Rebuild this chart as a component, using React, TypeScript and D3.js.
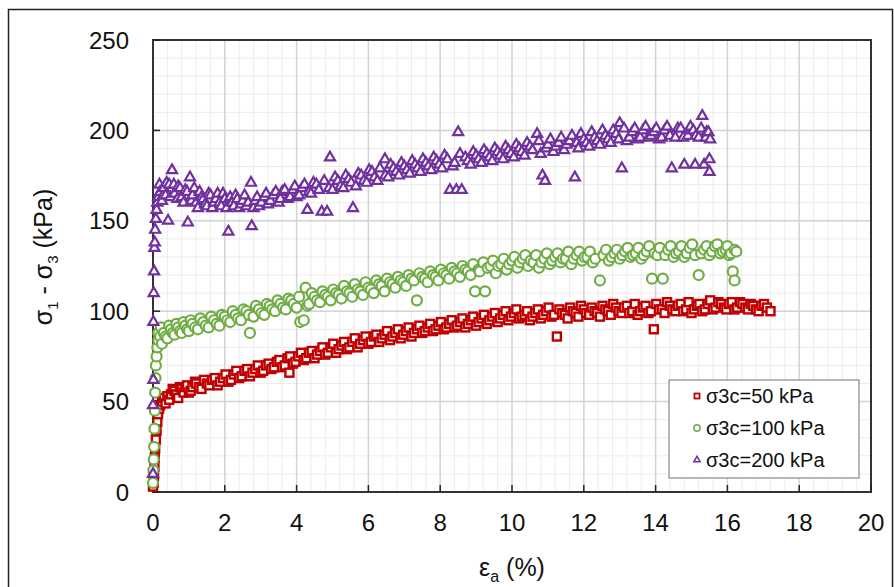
import React, { useEffect, useRef } from "react";
import * as d3 from "d3";

// axial strain (%) vs deviator stress (kPa)
const red50: [number, number][] = [
  [0, 3], [0.02, 5], [0.03, 9], [0.04, 14], [0.05, 19], [0.06, 24], [0.08, 29], [0.1, 34], [0.12, 39],
  [0.14, 43], [0.17, 46], [0.2, 48], [0.25, 50], [0.3, 52], [0.35, 49], [0.4, 53], [0.5, 54], [0.6, 56],
  [0.7, 52], [0.8, 57], [0.9, 58], [1.0, 55], [1.1, 58], [1.2, 60], [1.35, 57], [1.5, 60], [1.65, 62],
  [1.8, 59], [1.95, 63], [2.1, 61], [2.25, 65], [2.4, 63], [2.55, 67], [2.7, 64], [2.85, 68], [3.0, 66],
  [3.15, 70], [3.3, 68], [3.45, 72], [3.6, 69], [3.75, 74], [3.8, 66], [3.9, 71], [4.05, 75], [4.2, 73],
  [4.35, 77], [4.5, 74], [4.65, 78], [4.8, 76], [4.95, 80], [5.1, 77], [5.25, 81], [5.4, 79], [5.55, 83],
  [5.7, 80], [5.85, 84], [6.0, 82], [6.15, 86], [6.3, 83], [6.45, 87], [6.6, 84], [6.75, 88], [6.9, 85],
  [7.05, 89], [7.2, 86], [7.35, 90], [7.5, 88], [7.65, 91], [7.8, 89], [7.95, 92], [8.1, 90], [8.25, 93],
  [8.4, 91], [8.55, 94], [8.7, 91], [8.85, 95], [9.0, 92], [9.15, 96], [9.3, 93], [9.45, 97], [9.6, 94],
  [9.75, 98], [9.9, 95], [10.05, 99], [10.2, 96], [10.35, 98], [10.5, 95], [10.65, 99], [10.8, 96],
  [10.95, 100], [11.1, 97], [11.25, 86], [11.4, 99], [11.55, 96], [11.7, 100], [11.85, 97], [12.0, 101],
  [12.15, 98], [12.3, 100], [12.45, 97], [12.6, 101], [12.75, 98], [12.9, 102], [13.05, 99], [13.2, 103],
  [13.35, 100], [13.5, 98], [13.65, 102], [13.8, 99], [13.95, 90], [14.1, 101], [14.25, 99], [14.4, 103],
  [14.55, 100], [14.7, 104], [14.85, 101], [15.0, 99], [15.15, 103], [15.3, 100], [15.45, 104], [15.6, 101],
  [15.75, 105], [15.9, 102], [16.05, 104], [16.2, 101], [16.35, 105], [16.5, 102], [16.65, 104], [16.8, 101],
  [16.95, 103], [17.1, 102], [17.2, 100],
];
const red50b: [number, number][] = [
  [0.45, 51], [0.55, 57], [0.65, 54], [0.75, 58], [0.85, 55], [0.95, 59], [1.05, 56], [1.17, 61], [1.28, 58],
  [1.42, 62], [1.57, 59], [1.72, 63], [1.87, 61], [2.02, 65], [2.17, 62], [2.32, 67], [2.47, 64], [2.62, 68],
  [2.77, 66], [2.92, 70], [3.07, 67], [3.22, 71], [3.37, 69], [3.52, 73], [3.67, 70], [3.82, 75], [3.97, 72],
  [4.12, 77], [4.27, 74], [4.42, 78], [4.57, 76], [4.72, 80], [4.87, 77], [5.02, 82], [5.17, 79], [5.32, 83],
  [5.47, 80], [5.62, 85], [5.77, 82], [5.92, 86], [6.07, 83], [6.22, 87], [6.37, 85], [6.52, 89], [6.67, 86],
  [6.82, 90], [6.97, 87], [7.12, 91], [7.27, 88], [7.42, 92], [7.57, 89], [7.72, 93], [7.87, 90], [8.02, 94],
  [8.17, 91], [8.32, 95], [8.47, 92], [8.62, 96], [8.77, 93], [8.92, 97], [9.07, 94], [9.22, 98], [9.37, 95],
  [9.52, 99], [9.67, 96], [9.82, 100], [9.97, 97], [10.12, 101], [10.27, 97], [10.42, 100], [10.57, 97],
  [10.72, 101], [10.87, 98], [11.02, 102], [11.17, 98], [11.32, 101], [11.47, 98], [11.62, 102], [11.77, 99],
  [11.92, 103], [12.07, 99], [12.22, 102], [12.37, 99], [12.52, 103], [12.67, 100], [12.82, 104], [12.97, 100],
  [13.12, 102], [13.27, 99], [13.42, 104], [13.57, 100], [13.72, 103], [13.87, 100], [14.02, 104], [14.17, 101],
  [14.32, 105], [14.47, 101], [14.62, 103], [14.77, 100], [14.92, 105], [15.07, 101], [15.22, 104], [15.37, 101],
  [15.52, 106], [15.67, 102], [15.82, 104], [15.97, 101], [16.12, 105], [16.27, 102], [16.42, 104], [16.57, 101],
  [16.72, 103], [16.87, 100], [17.02, 104],
];

const green100: [number, number][] = [
  [0, 5], [0.01, 12], [0.02, 18], [0.03, 25], [0.04, 35], [0.05, 45], [0.06, 55], [0.07, 63], [0.08, 70],
  [0.1, 75], [0.12, 80], [0.15, 84], [0.2, 86], [0.25, 82], [0.3, 88], [0.4, 85], [0.5, 90], [0.6, 87],
  [0.7, 91], [0.8, 88], [0.9, 92], [1.0, 89], [1.1, 93], [1.25, 90], [1.4, 94], [1.55, 91], [1.7, 95],
  [1.85, 92], [2.0, 97], [2.15, 94], [2.3, 98], [2.45, 95], [2.6, 100], [2.7, 88], [2.8, 97], [2.95, 101],
  [3.1, 98], [3.25, 103], [3.4, 100], [3.55, 104], [3.7, 101], [3.85, 106], [4.0, 102], [4.1, 94], [4.2, 95],
  [4.25, 113], [4.35, 104], [4.5, 108], [4.65, 105], [4.8, 109], [4.95, 106], [5.1, 110], [5.25, 107],
  [5.4, 111], [5.55, 108], [5.7, 112], [5.85, 109], [6.0, 113], [6.15, 110], [6.3, 115], [6.45, 111],
  [6.6, 116], [6.75, 113], [6.9, 117], [7.05, 114], [7.2, 118], [7.35, 106], [7.5, 119], [7.65, 116],
  [7.8, 120], [7.95, 117], [8.1, 121], [8.25, 118], [8.4, 122], [8.55, 119], [8.7, 123], [8.85, 120],
  [8.97, 111], [9.1, 122], [9.25, 111], [9.4, 125], [9.55, 121], [9.7, 126], [9.85, 123], [10.0, 128],
  [10.15, 124], [10.3, 129], [10.45, 125], [10.6, 127], [10.75, 124], [10.9, 129], [11.05, 126], [11.2, 130],
  [11.35, 127], [11.5, 129], [11.65, 126], [11.8, 131], [11.95, 128], [12.1, 130], [12.25, 127], [12.45, 117],
  [12.55, 131], [12.7, 128], [12.85, 132], [13.0, 129], [13.15, 133], [13.3, 130], [13.45, 132], [13.6, 129],
  [13.75, 133], [13.9, 118], [14.05, 131], [14.2, 118], [14.35, 134], [14.5, 130], [14.65, 133], [14.8, 130],
  [14.95, 135], [15.1, 131], [15.2, 120], [15.35, 134], [15.5, 131], [15.65, 136], [15.8, 132], [15.95, 134],
  [16.05, 131], [16.15, 122], [16.2, 117], [16.25, 133],
];
const green100b: [number, number][] = [
  [0.15, 88], [0.22, 91], [0.35, 86], [0.45, 92], [0.55, 88], [0.65, 93], [0.75, 89], [0.85, 94], [0.95, 90],
  [1.05, 95], [1.17, 91], [1.32, 96], [1.47, 92], [1.62, 97], [1.77, 93], [1.92, 98], [2.07, 95], [2.22, 100],
  [2.37, 96], [2.52, 101], [2.67, 98], [2.87, 103], [3.02, 99], [3.17, 104], [3.32, 101], [3.47, 106],
  [3.62, 102], [3.77, 107], [3.92, 104], [4.07, 108], [4.3, 103], [4.42, 110], [4.57, 106], [4.72, 111],
  [4.87, 108], [5.02, 112], [5.17, 109], [5.32, 114], [5.47, 110], [5.62, 115], [5.77, 111], [5.92, 116],
  [6.07, 112], [6.22, 117], [6.37, 114], [6.52, 118], [6.67, 115], [6.82, 119], [6.97, 116], [7.12, 120],
  [7.27, 117], [7.42, 121], [7.57, 118], [7.72, 122], [7.87, 119], [8.02, 123], [8.17, 120], [8.32, 124],
  [8.47, 121], [8.62, 125], [8.77, 122], [8.92, 126], [9.07, 123], [9.2, 127], [9.32, 124], [9.47, 128],
  [9.62, 125], [9.77, 129], [9.92, 126], [10.07, 130], [10.22, 127], [10.37, 131], [10.52, 128], [10.67, 131],
  [10.82, 127], [10.97, 132], [11.12, 128], [11.27, 132], [11.42, 129], [11.57, 133], [11.72, 129], [11.87, 133],
  [12.02, 130], [12.17, 133], [12.32, 129], [12.62, 134], [12.77, 130], [12.92, 134], [13.07, 131], [13.22, 135],
  [13.37, 131], [13.52, 135], [13.67, 131], [13.82, 136], [13.97, 132], [14.12, 135], [14.27, 131], [14.42, 136],
  [14.57, 132], [14.72, 136], [14.87, 132], [15.02, 137], [15.27, 132], [15.42, 136], [15.57, 133], [15.72, 137],
  [15.87, 133], [16.0, 136], [16.1, 132], [16.2, 134],
];

const purple200: [number, number][] = [
  [0, 10], [0, 48], [0.01, 62], [0.01, 94], [0.02, 110], [0.03, 122], [0.04, 135], [0.05, 138], [0.06, 145],
  [0.08, 151], [0.1, 156], [0.12, 160], [0.15, 163], [0.2, 166], [0.25, 161], [0.3, 168], [0.35, 164],
  [0.42, 150], [0.45, 170], [0.53, 178], [0.6, 165], [0.7, 169], [0.8, 163], [0.9, 167], [0.97, 149],
  [1.03, 174], [1.1, 164], [1.2, 160], [1.3, 166], [1.4, 162], [1.5, 158], [1.6, 164], [1.7, 160], [1.8, 165],
  [1.9, 158], [2.0, 162], [2.1, 144], [2.2, 160], [2.3, 164], [2.4, 157], [2.5, 161], [2.6, 158], [2.73, 171],
  [2.75, 147], [2.85, 161], [2.95, 158], [3.1, 163], [3.2, 159], [3.35, 164], [3.5, 160], [3.6, 166],
  [3.75, 162], [3.9, 167], [4.0, 163], [4.15, 168], [4.3, 156], [4.4, 165], [4.55, 170], [4.7, 155],
  [4.85, 155], [4.93, 185], [5.0, 167], [5.15, 172], [5.3, 168], [5.45, 173], [5.57, 157], [5.65, 169],
  [5.8, 175], [5.95, 171], [6.1, 177], [6.25, 172], [6.46, 184], [6.55, 174], [6.7, 179], [6.85, 175],
  [7.0, 180], [7.15, 176], [7.3, 181], [7.45, 177], [7.6, 182], [7.75, 178], [7.9, 183], [8.05, 179],
  [8.2, 184], [8.27, 167], [8.35, 180], [8.45, 167], [8.5, 199], [8.6, 167], [8.7, 185], [8.85, 181],
  [9.0, 186], [9.15, 182], [9.3, 187], [9.45, 183], [9.6, 188], [9.75, 184], [9.9, 189], [10.05, 185],
  [10.2, 190], [10.35, 186], [10.5, 191], [10.7, 198], [10.8, 187], [10.85, 175], [10.92, 172], [11.0, 192],
  [11.15, 188], [11.3, 193], [11.45, 189], [11.6, 194], [11.75, 174], [11.85, 190], [12.0, 195], [12.15, 191],
  [12.3, 196], [12.45, 192], [12.6, 197], [12.75, 193], [12.9, 198], [13.0, 204], [13.06, 179], [13.2, 194],
  [13.35, 199], [13.5, 195], [13.65, 200], [13.8, 196], [13.95, 199], [14.1, 195], [14.25, 200], [14.45, 179],
  [14.55, 196], [14.7, 201], [14.8, 181], [14.9, 197], [15.05, 200], [15.1, 181], [15.2, 196], [15.3, 208],
  [15.35, 181], [15.42, 199], [15.5, 184], [15.5, 177], [15.52, 195],
];
const purple200b: [number, number][] = [
  [0.18, 170], [0.28, 164], [0.38, 171], [0.48, 163], [0.58, 170], [0.68, 162], [0.75, 168], [0.85, 160],
  [0.95, 166], [1.07, 161], [1.15, 168], [1.25, 157], [1.35, 163], [1.45, 159], [1.55, 165], [1.65, 157],
  [1.75, 162], [1.85, 160], [1.95, 165], [2.05, 157], [2.15, 163], [2.25, 158], [2.35, 162], [2.45, 159],
  [2.55, 164], [2.65, 160], [2.8, 157], [2.9, 163], [3.02, 160], [3.15, 165], [3.27, 161], [3.42, 166],
  [3.55, 162], [3.67, 167], [3.82, 163], [3.95, 169], [4.07, 164], [4.22, 170], [4.35, 166], [4.47, 171],
  [4.62, 167], [4.77, 172], [4.9, 168], [5.07, 174], [5.22, 169], [5.37, 175], [5.52, 171], [5.72, 176],
  [5.87, 172], [6.02, 178], [6.17, 174], [6.32, 179], [6.47, 175], [6.62, 181], [6.77, 177], [6.92, 182],
  [7.07, 178], [7.22, 183], [7.37, 179], [7.52, 184], [7.67, 180], [7.82, 185], [7.97, 181], [8.12, 186],
  [8.4, 182], [8.55, 187], [8.77, 183], [8.92, 188], [9.07, 184], [9.22, 189], [9.37, 185], [9.52, 190],
  [9.67, 186], [9.82, 191], [9.97, 187], [10.12, 192], [10.27, 188], [10.42, 193], [10.57, 189], [10.75, 194],
  [10.95, 190], [11.07, 195], [11.22, 191], [11.37, 196], [11.52, 192], [11.67, 197], [11.8, 193], [11.92, 198],
  [12.07, 193], [12.22, 199], [12.37, 194], [12.52, 200], [12.67, 195], [12.82, 200], [12.97, 195], [13.12, 201],
  [13.27, 196], [13.42, 201], [13.57, 196], [13.72, 202], [13.87, 197], [14.02, 201], [14.17, 196], [14.32, 202],
  [14.4, 197], [14.62, 201], [14.77, 196], [14.97, 202], [15.12, 197], [15.27, 201], [15.4, 196], [15.47, 199],
];

const xTicks = [0, 2, 4, 6, 8, 10, 12, 14, 16, 18, 20];
const yTicks = [0, 50, 100, 150, 200, 250];
const legendLabels = ["σ3c=50 kPa", "σ3c=100 kPa", "σ3c=200 kPa"];

const font = "'Liberation Sans', Arial, sans-serif";

// interleave the two readings so later markers sit on top in x order
const byX = (a: [number, number][], b: [number, number][]) => a.concat(b).sort((p, q) => p[0] - q[0]);

function App() {
  const ref = useRef<SVGSVGElement>(null);

  useEffect(() => {
    const svg = d3.select(ref.current);
    svg.selectAll("*").remove();

    const left = 153, top = 40, right = 871, bottom = 492;
    const x = d3.scaleLinear().domain([0, 20]).range([left, right]);
    const y = d3.scaleLinear().domain([0, 250]).range([bottom, top]);

    // outer frame
    svg.append("rect")
      .attr("x", 8.5).attr("y", 9.5).attr("width", 884).attr("height", 590)
      .attr("fill", "white").attr("stroke", "#222").attr("stroke-width", 1.5);

    // minor grid
    const g = svg.append("g");
    g.selectAll(".vminor")
      .data(d3.range(0, 50).map((i) => i * 0.4))
      .join("line")
      .attr("x1", (d) => x(d)).attr("x2", (d) => x(d))
      .attr("y1", top).attr("y2", bottom)
      .attr("stroke", "#ececec").attr("stroke-width", 1);
    g.selectAll(".hminor")
      .data(d3.range(0, 25).map((i) => i * 10))
      .join("line")
      .attr("y1", (d) => y(d)).attr("y2", (d) => y(d))
      .attr("x1", left).attr("x2", right)
      .attr("stroke", "#ececec").attr("stroke-width", 1);
    // major grid
    g.selectAll(".vmajor")
      .data(xTicks)
      .join("line")
      .attr("x1", (d) => x(d)).attr("x2", (d) => x(d))
      .attr("y1", top).attr("y2", bottom)
      .attr("stroke", "#d4d4d4").attr("stroke-width", 1.5);
    g.selectAll(".hmajor")
      .data(yTicks)
      .join("line")
      .attr("y1", (d) => y(d)).attr("y2", (d) => y(d))
      .attr("x1", left).attr("x2", right)
      .attr("stroke", "#d4d4d4").attr("stroke-width", 1.5);

    // plot border
    svg.append("rect")
      .attr("x", left).attr("y", top).attr("width", right - left).attr("height", bottom - top)
      .attr("fill", "none").attr("stroke", "#333").attr("stroke-width", 2);

    // ticks (inside)
    svg.selectAll(".xt").data(xTicks).join("line")
      .attr("x1", (d) => x(d)).attr("x2", (d) => x(d))
      .attr("y1", bottom).attr("y2", bottom - 7)
      .attr("stroke", "#222").attr("stroke-width", 1.5);
    svg.selectAll(".yt").data(yTicks).join("line")
      .attr("y1", (d) => y(d)).attr("y2", (d) => y(d))
      .attr("x1", left).attr("x2", left + 7)
      .attr("stroke", "#222").attr("stroke-width", 1.5);

    // tick labels
    svg.selectAll(".xl").data(xTicks).join("text")
      .attr("x", (d) => x(d)).attr("y", 522)
      .attr("text-anchor", "middle").attr("dominant-baseline", "central")
      .style("font-family", font).style("font-size", "24px").attr("fill", "#111")
      .text((d) => d);
    svg.selectAll(".yl").data(yTicks).join("text")
      .attr("x", 129).attr("y", (d) => y(d))
      .attr("text-anchor", "end").attr("dominant-baseline", "central")
      .style("font-family", font).style("font-size", "24px").attr("fill", "#111")
      .text((d) => d);

    // axis titles
    const yt = svg.append("text")
      .attr("transform", "translate(52,257) rotate(-90)")
      .attr("text-anchor", "middle")
      .style("font-family", font).style("font-size", "25px").attr("fill", "#111");
    yt.append("tspan").text("σ");
    yt.append("tspan").text("1").attr("font-size", "15px").attr("dy", 6);
    yt.append("tspan").text(" - σ").attr("dy", -6);
    yt.append("tspan").text("3").attr("font-size", "15px").attr("dy", 6);
    yt.append("tspan").text(" (kPa)").attr("dy", -6);

    const xtl = svg.append("text")
      .attr("x", 512).attr("y", 576)
      .attr("text-anchor", "middle")
      .style("font-family", font).style("font-size", "25px").attr("fill", "#111");
    xtl.append("tspan").text("ε");
    xtl.append("tspan").text("a").attr("font-size", "16px").attr("dy", 6);
    xtl.append("tspan").text(" (%)").attr("dy", -6);

    // series
    const plot = svg.append("g");
    plot.selectAll(".sq").data(byX(red50, red50b)).join("rect")
      .attr("x", (d) => x(d[0]) - 4).attr("y", (d) => y(d[1]) - 4)
      .attr("width", 8).attr("height", 8)
      .attr("fill", "white").attr("stroke", "#c00000").attr("stroke-width", 2.4);
    plot.selectAll(".ci").data(byX(green100, green100b)).join("circle")
      .attr("cx", (d) => x(d[0])).attr("cy", (d) => y(d[1])).attr("r", 5)
      .attr("fill", "white").attr("stroke", "#70ad47").attr("stroke-width", 2.2);
    const tri = d3.symbol().type(d3.symbolTriangle).size(44);
    plot.selectAll(".tr").data(byX(purple200, purple200b)).join("path")
      .attr("d", tri)
      .attr("transform", (d) => `translate(${x(d[0])},${y(d[1])})`)
      .attr("fill", "white").attr("stroke", "#7030a0").attr("stroke-width", 2.2);

    // legend
    const lg = svg.append("g");
    lg.append("rect")
      .attr("x", 669).attr("y", 380).attr("width", 190).attr("height", 98)
      .attr("fill", "white").attr("stroke", "#888").attr("stroke-width", 1.2);
    const rows = [396, 428, 460];
    lg.append("rect").attr("x", 694.5).attr("y", rows[0] - 2.5).attr("width", 5).attr("height", 5)
      .attr("fill", "white").attr("stroke", "#c00000").attr("stroke-width", 1.8);
    lg.append("circle").attr("cx", 697).attr("cy", rows[1]).attr("r", 3.2)
      .attr("fill", "white").attr("stroke", "#70ad47").attr("stroke-width", 1.5);
    lg.append("path").attr("d", d3.symbol().type(d3.symbolTriangle).size(18))
      .attr("transform", `translate(697,${rows[2]})`)
      .attr("fill", "white").attr("stroke", "#7030a0").attr("stroke-width", 1.5);
    lg.selectAll(".lt").data(legendLabels).join("text")
      .attr("x", 706).attr("y", (d, i) => rows[i])
      .attr("dominant-baseline", "central")
      .style("font-family", font).style("font-size", "20px").attr("fill", "#111")
      .text((d) => d);
  }, []);

  return (
    <svg ref={ref} width={894} height={587} style={{ position: "absolute", left: 0, top: 0 }}></svg>
  );
}

export default App;
